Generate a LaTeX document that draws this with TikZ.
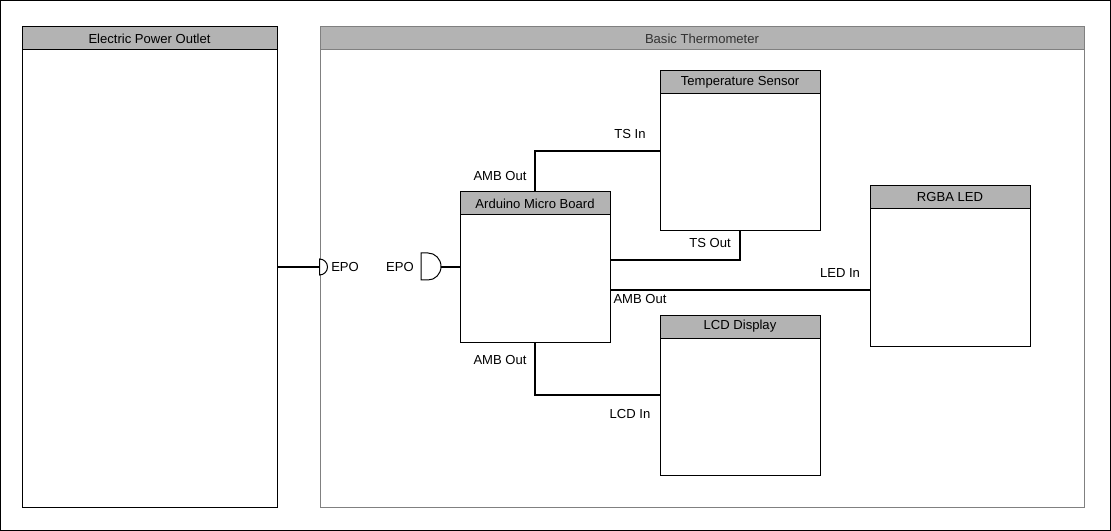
\documentclass[tikz,border=0pt]{standalone}
\usepackage{fontspec}
\setmainfont{Liberation Sans}
\usetikzlibrary{positioning, fit, calc}

\definecolor{hdrgray}{HTML}{B3B3B3}
\definecolor{frmgray}{HTML}{808080}
\definecolor{txtgray}{HTML}{333333}

\tikzset{
  blkbody/.style={draw=black, fill=white, inner sep=0pt, line width=0.75pt},
  blkhead/.style={draw=black, fill=hdrgray, inner sep=0pt, line width=0.75pt},
  wire/.style={line width=1.5pt},
  port/.style={draw=black, fill=white, line width=0.75pt},
  lbl/.style={font=\fontsize{9.8}{11}\selectfont, inner sep=0pt, text=black},
}

% box with a grey title bar: name, x1, y1, x2, y2, title
\newcommand{\blockbox}[6]{%
  \node[blkbody, fit={(#2,#3) (#4,#5)}] (#1) {};
  \node[blkhead, fit={(#2,#3) (#4,#3+23)},
        label={[lbl]center:#6}] (#1h) {};
}

\begin{document}
\begin{tikzpicture}[x=0.75pt, y=-0.75pt]

  \useasboundingbox (0,0) rectangle (1111,531);
  \draw[line width=0.75pt] (0.5,0.5) rectangle (1110.5,530.5);

  % outlet
  \blockbox{epo}{22}{27}{277}{507}{Electric Power Outlet}

  % thermometer frame
  \node[blkbody, draw=frmgray, fit={(320,27) (1084,507)}] (thm) {};
  \node[blkhead, draw=frmgray, fit={(320,27) (1084,50)},
        label={[lbl, text=txtgray]center:Basic Thermometer}] (thmh) {};

  \blockbox{ard}{460}{192}{610}{342}{Arduino Micro Board}
  \blockbox{ts}{660}{71}{820}{231}{Temperature Sensor}
  \blockbox{led}{870}{186}{1030}{346}{RGBA LED}
  \blockbox{lcd}{660}{315}{820}{475}{LCD Display}

  % power ports
  \coordinate (epoP) at (thm.west |- epo.east);
  \coordinate (ardP) at (441,267);
  \draw[wire] (epo.east) -- (epoP);
  \draw[wire] (ardP) -- (ard.west);
  \draw[port] (epoP) ++(0,-8) arc[start angle=-90, end angle=90, radius=8] -- cycle;
  \draw[port] (421,253) -- (428,253)
    arc[start angle=-90, end angle=90, x radius=13, y radius=13.5] -- (421,280) -- cycle;

  % signal wires
  \draw[wire] (ard.north) |- (ts.west);
  \draw[wire] (ts.south) |- ([yshift=5.25pt]ard.east);
  \draw[wire] ([yshift=-17.25pt]ard.east) coordinate (ledA) -- (ledA -| led.west);
  \draw[wire] (ard.south) |- (lcd.west);

  % port labels
  \node[lbl, anchor=west] (lEpoO) at (331,267) {EPO};
  \node[lbl] (lEpoI) at (400,267) {EPO};
  \node[lbl] (lAmbT) at (500,176) {AMB Out};
  \node[lbl] (lTsIn) at (630,134) {TS In};
  \node[lbl] (lTsOut) at (710,243) {TS Out};
  \node[lbl] (lLedIn) at (840,273) {LED In};
  \node[lbl] (lAmbR) at (640,299) {AMB Out};
  \node[lbl] (lAmbB) at (500,360) {AMB Out};
  \node[lbl] (lLcdIn) at (630,414) {LCD In};

\end{tikzpicture}
\end{document}
